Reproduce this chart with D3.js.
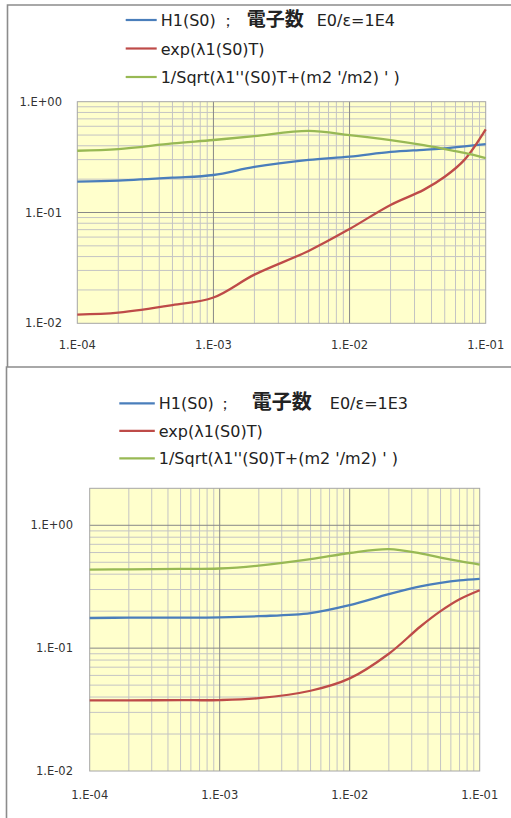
<!DOCTYPE html>
<html>
<head>
<meta charset="utf-8">
<script src="https://cdn.jsdelivr.net/npm/d3@7"></script>
<style>
  body { margin: 0; background: #fff; }
  svg { display: block; }
</style>
</head>
<body>
<svg id="chart" width="511" height="818"></svg>
<script>
// x values (time T), shared by both charts
var xValues = [1e-4, 2e-4, 5e-4, 1e-3, 2e-3, 5e-3, 1e-2, 2e-2, 3.5e-2, 5e-2, 7e-2, 1e-1];

// chart 1 : E0/eps = 1E4
var top_H1 = [0.190, 0.194, 0.206, 0.218, 0.258, 0.298, 0.319, 0.352, 0.368, 0.379, 0.395, 0.415];
var top_exp = [0.0120, 0.0125, 0.0146, 0.0171, 0.0275, 0.045, 0.071, 0.117, 0.160, 0.210, 0.300, 0.563];
var top_sqrt = [0.361, 0.374, 0.420, 0.451, 0.490, 0.545, 0.500, 0.450, 0.405, 0.374, 0.345, 0.310];

// chart 2 : E0/eps = 1E3
var bot_H1 = [0.176, 0.177, 0.177, 0.178, 0.182, 0.193, 0.224, 0.275, 0.318, 0.340, 0.356, 0.366];
var bot_exp = [0.0376, 0.0376, 0.0377, 0.0378, 0.0392, 0.0450, 0.0567, 0.0900, 0.150, 0.200, 0.250, 0.296];
var bot_sqrt = [0.436, 0.438, 0.441, 0.445, 0.470, 0.530, 0.595, 0.640, 0.590, 0.545, 0.510, 0.479];

var xTickLabels = ["1.E-04", "1.E-03", "1.E-02", "1.E-01"];
var yTickLabels = ["1.E-02", "1.E-01", "1.E+00"];
var seriesNames = ["exp(λ1(S0)T)", "1/Sqrt(λ1''(S0)T+(m2 '/m2) ' )"];
var colors = ["#4a7ebb", "#be4b48", "#98b954"];

var svg = d3.select("#chart");

// outer frames
svg.append("path")
  .attr("d", "M7.5,367 V5 H511")
  .attr("fill", "none").attr("stroke", "#8c8c8c").attr("stroke-width", 1.6);
svg.append("path")
  .attr("d", "M6.5,818 V367 H511")
  .attr("fill", "none").attr("stroke", "#8c8c8c").attr("stroke-width", 1.6);

function drawChart(opt) {
  var g = svg.append("g");
  var x = d3.scaleLog().domain([1e-4, 1e-1]).range([opt.left, opt.right]);
  var y = d3.scaleLog().domain([0.01, opt.yMax]).range([opt.bottom, opt.top]);

  g.append("rect")
    .attr("x", opt.left).attr("y", opt.top)
    .attr("width", opt.right - opt.left).attr("height", opt.bottom - opt.top)
    .attr("fill", "#ffffcc");

  var isMajor = function(v) { return Math.abs(Math.log10(v) - Math.round(Math.log10(v))) < 1e-6; };

  // grid (minor first, majors on top)
  var xt = x.ticks().filter(function(v){ return v > 1e-4 && v < 1e-1; });
  var yt = y.ticks().filter(function(v){ return v > 0.01 && v < opt.yMax && v <= 1; });
  g.selectAll(".vx").data(xt.filter(function(v){ return !isMajor(v); })).enter().append("line")
    .attr("x1", function(d){ return x(d); }).attr("x2", function(d){ return x(d); })
    .attr("y1", opt.top).attr("y2", opt.bottom)
    .attr("stroke", "#c4c4c4").attr("stroke-width", 1);
  g.selectAll(".hy").data(yt.filter(function(v){ return !isMajor(v); })).enter().append("line")
    .attr("y1", function(d){ return y(d); }).attr("y2", function(d){ return y(d); })
    .attr("x1", opt.left).attr("x2", opt.right)
    .attr("stroke", "#c4c4c4").attr("stroke-width", 1);
  g.selectAll(".vX").data(xt.filter(isMajor)).enter().append("line")
    .attr("x1", function(d){ return x(d); }).attr("x2", function(d){ return x(d); })
    .attr("y1", opt.top).attr("y2", opt.bottom)
    .attr("stroke", "#888").attr("stroke-width", 1);
  g.selectAll(".hY").data(yt.filter(isMajor)).enter().append("line")
    .attr("y1", function(d){ return y(d); }).attr("y2", function(d){ return y(d); })
    .attr("x1", opt.left).attr("x2", opt.right)
    .attr("stroke", "#888").attr("stroke-width", 1);

  g.append("rect")
    .attr("x", opt.left).attr("y", opt.top)
    .attr("width", opt.right - opt.left).attr("height", opt.bottom - opt.top)
    .attr("fill", "none").attr("stroke", "#a6a6a6").attr("stroke-width", 1);

  // tick labels
  var xDec = [1e-4, 1e-3, 1e-2, 1e-1], yDec = [0.01, 0.1, 1];
  g.selectAll(".xl").data(xDec).enter().append("text")
    .attr("x", function(d){ return x(d); }).attr("y", opt.bottom + opt.xLabelDy)
    .attr("text-anchor", "middle")
    .attr("font-family", "DejaVu Sans, sans-serif").attr("font-size", "11.5px")
    .attr("fill", "#333")
    .text(function(d, i){ return xTickLabels[i]; });
  g.selectAll(".yl").data(yDec).enter().append("text")
    .attr("x", opt.yLabelX).attr("y", function(d){ return y(d) + 4; })
    .attr("text-anchor", "end")
    .attr("font-family", "DejaVu Sans, sans-serif").attr("font-size", "11.5px")
    .attr("fill", "#333")
    .text(function(d, i){ return yTickLabels[i]; });

  // series
  var line = d3.line()
    .x(function(d){ return x(d[0]); })
    .y(function(d){ return y(d[1]); })
    .curve(d3.curveCatmullRom.alpha(0.5));
  opt.series.forEach(function(s, i) {
    g.append("path")
      .datum(xValues.map(function(v, j){ return [v, s[j]]; }))
      .attr("d", line)
      .attr("fill", "none").attr("stroke", colors[i]).attr("stroke-width", 2.3);
  });

  // legend
  var leg = g.append("g");
  var labels = [null].concat(seriesNames);
  labels.forEach(function(lab, i) {
    var ly = opt.legY + i * opt.legDy;
    leg.append("line")
      .attr("x1", opt.legX).attr("x2", opt.legX + opt.legW)
      .attr("y1", ly).attr("y2", ly)
      .attr("stroke", colors[i]).attr("stroke-width", 2.2);
    var t = leg.append("text")
      .attr("x", opt.legX + opt.legW + 4).attr("y", ly + 6)
      .attr("font-family", "DejaVu Sans, sans-serif").attr("font-size", "16px")
      .attr("fill", "#222");
    if (lab) {
      t.text(lab);
    } else {
      t.append("tspan").text("H1(S0)");
      t.append("tspan").attr("dx", opt.gaps[0]).text("；");
      t.append("tspan").attr("dx", opt.gaps[1])
        .attr("font-family", "Noto Sans CJK JP").attr("font-weight", "bold").attr("font-size", opt.kanjiSize)
        .text("電子数");
      t.append("tspan").attr("dx", opt.gaps[2]).text(opt.title);
    }
  });
}

drawChart({
  left: 77.3, right: 485.7, top: 101.7, bottom: 323.3, yMax: 1,
  yLabelX: 62, xLabelDy: 26, legX: 125.7, legY: 20, legDy: 28.5, legW: 31,
  title: "E0/ε=1E4", gaps: [4, 11, 13], kanjiSize: "19px",
  series: [top_H1, top_exp, top_sqrt]
});

drawChart({
  left: 89.7, right: 479.7, top: 488.3, bottom: 771, yMax: 2,
  yLabelX: 73, xLabelDy: 28, legX: 119.3, legY: 403.3, legDy: 27.5, legW: 35.5,
  title: "E0/ε=1E3", gaps: [3, 19, 18], kanjiSize: "20px",
  series: [bot_H1, bot_exp, bot_sqrt]
});
</script>
</body>
</html>
